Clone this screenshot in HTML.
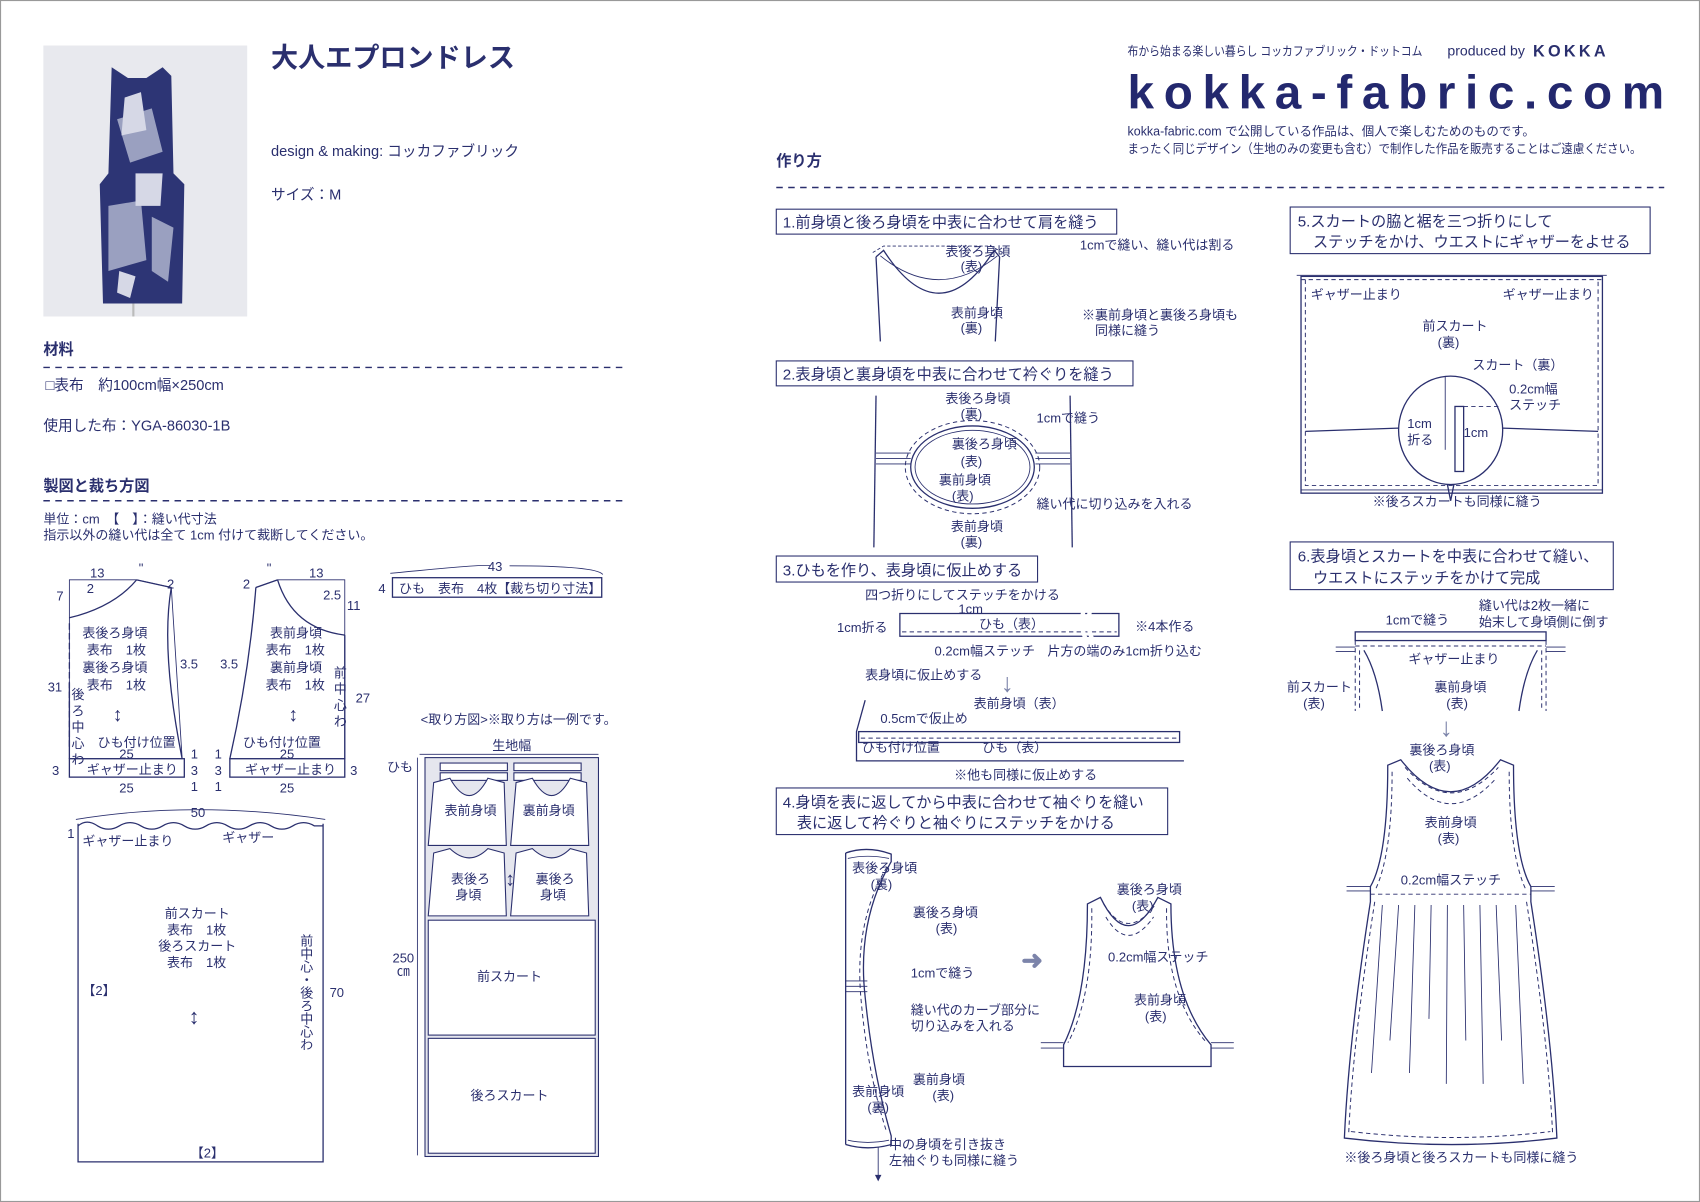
<!DOCTYPE html>
<html><head><meta charset="utf-8"><style>
html,body{margin:0;padding:0;background:#fff;}
svg{display:block;}
text{font-family:"Liberation Sans","Noto Sans CJK JP",sans-serif;fill:#2a2f6e;}
.s{font-size:12px;}
.m{font-size:13px;}
.b{font-weight:bold;}
.ln{stroke:#2a2f6e;fill:none;stroke-width:1.2;}
.th{stroke:#2a2f6e;fill:none;stroke-width:0.8;}
.ds{stroke:#2a2f6e;fill:none;stroke-width:0.9;stroke-dasharray:4 3;}
.hd{stroke:#2a2f6e;fill:none;stroke-width:1.3;stroke-dasharray:6 5;}
.bx{stroke:#2a2f6e;fill:#fff;stroke-width:1;}
</style></head><body>
<svg width="1700" height="1202" viewBox="0 0 1568 1109" preserveAspectRatio="none" xmlns="http://www.w3.org/2000/svg">
<rect x="0.5" y="0.5" width="1567" height="1108" fill="#fff" stroke="#999" stroke-width="1"/>

<!-- photo -->
<rect x="40" y="42" width="188" height="250" fill="#e8e9ee"/>
<path d="M103 62 L118 72 L135 72 L150 62 L158 70 L160 160 L170 170 L168 280 L95 280 L92 170 L100 160 Z" fill="#2d3575"/>
<path d="M108 110 L140 100 L150 140 L120 150 Z M100 190 L130 185 L135 240 L100 250 Z M140 200 L160 210 L155 260 L140 250 Z" fill="#9aa0c0"/>
<path d="M115 90 L130 85 L135 120 L112 125Z M125 160 L150 160 L148 190 L125 190Z M110 250 L125 255 L120 275 L108 270Z" fill="#d6d8e6"/>
<line x1="123" y1="280" x2="123" y2="292" stroke="#bbb" stroke-width="2"/>

<text x="250" y="62" font-size="25" class="b">大人エプロンドレス</text>
<text x="250" y="144" font-size="13.5">design &amp; making: コッカファブリック</text>
<text x="250" y="184" font-size="13.5">サイズ：M</text>

<text x="40" y="327" font-size="14" class="b">材料</text>
<line x1="40" y1="339" x2="578" y2="339" class="hd"/>
<text x="42" y="360" font-size="13.5">□表布　約100cm幅×250cm</text>
<text x="40" y="397" font-size="13.5">使用した布：YGA-86030-1B</text>
<text x="40" y="453" font-size="14" class="b">製図と裁ち方図</text>
<line x1="40" y1="462" x2="578" y2="462" class="hd"/>
<text x="40" y="483" class="s">単位：cm　【　】：縫い代寸法</text>
<text x="40" y="498" class="s">指示以外の縫い代は全て 1cm 付けて裁断してください。</text>

<!-- back bodice pattern -->
<g>
<path d="M64 535 L126 535 L158 542 L168 700 L64 700 Z" class="th"/>
<path d="M64 570 Q105 560 126 535" class="ln"/>
<path d="M126 535 L158 542" class="ln"/>
<path d="M158 542 Q148 600 168 700" class="ln"/>
<line x1="64" y1="630" x2="64" y2="700" class="ln"/>
<line x1="64" y1="575" x2="64" y2="690" class="ln" stroke-dasharray="6 3"/>
<rect x="64" y="700" width="106" height="17" class="ln"/>
<text x="83" y="533" class="s">13</text><text x="128" y="528" class="s">"</text>
<text x="52" y="554" class="s">7</text><text x="80" y="547" class="s">2</text><text x="154" y="543" class="s">2</text>
<text x="76" y="588" class="s">表後ろ身頃</text><text x="80" y="604" class="s">表布　1枚</text>
<text x="76" y="620" class="s">裏後ろ身頃</text><text x="80" y="636" class="s">表布　1枚</text>
<text x="166" y="617" class="s">3.5</text><text x="44" y="638" class="s">31</text>
<text x="66" y="645" class="s">後</text><text x="66" y="660" class="s">ろ</text><text x="66" y="675" class="s">中</text><text x="66" y="690" class="s">心</text><text x="66" y="705" class="s" font-size="11">わ</text>
<text x="104" y="665" font-size="18">↕</text>
<text x="90" y="689" class="s">ひも付け位置</text>
<text x="110" y="700" class="s">25</text>
<text x="48" y="715" class="s">3</text><text x="80" y="714" class="s">ギャザー止まり</text>
<text x="176" y="700" class="s">1</text><text x="176" y="715" class="s">3</text><text x="176" y="730" class="s">1</text>
<text x="110" y="731" class="s">25</text>
</g>
<!-- front bodice pattern -->
<g>
<path d="M236 542 L256 535 L318 535 L318 700 L212 700" class="th"/>
<path d="M236 542 L256 535" class="ln"/>
<path d="M256 535 Q270 580 318 586" class="ln"/>
<path d="M236 542 Q230 620 212 700" class="ln"/>
<line x1="318" y1="586" x2="318" y2="700" class="ln"/>
<rect x="212" y="700" width="106" height="17" class="ln"/>
<text x="285" y="533" class="s">13</text><text x="246" y="528" class="s">"</text>
<text x="224" y="543" class="s">2</text><text x="298" y="553" class="s">2.5</text><text x="320" y="563" class="s">11</text>
<text x="249" y="588" class="s">表前身頃</text><text x="245" y="604" class="s">表布　1枚</text>
<text x="249" y="620" class="s">裏前身頃</text><text x="245" y="636" class="s">表布　1枚</text>
<text x="203" y="617" class="s">3.5</text>
<text x="308" y="625" class="s">前</text><text x="308" y="640" class="s">中</text><text x="308" y="655" class="s">心</text><text x="308" y="670" class="s">わ</text>
<text x="328" y="648" class="s">27</text>
<text x="266" y="665" font-size="18">↕</text>
<text x="224" y="689" class="s">ひも付け位置</text>
<text x="258" y="700" class="s">25</text>
<text x="198" y="700" class="s">1</text><text x="198" y="715" class="s">3</text><text x="198" y="730" class="s">1</text>
<text x="226" y="714" class="s">ギャザー止まり</text><text x="323" y="715" class="s">3</text>
<text x="258" y="731" class="s">25</text>
</g>
<!-- himo -->
<path d="M360 529 Q450 520 452 522 M470 522 Q550 522 556 530" class="th"/>
<text x="450" y="527" class="s">43</text>
<rect x="362" y="533" width="193" height="18" class="ln"/>
<text x="349" y="547" class="s">4</text>
<text x="368" y="547" class="s">ひも　表布　4枚【裁ち切り寸法】</text>

<!-- skirt -->
<path d="M72 762 Q80 755 90 762 Q100 768 110 762 Q120 756 130 762 Q140 768 150 762 Q160 756 170 762 Q180 768 190 762 Q200 756 210 762 Q220 768 230 762 Q240 756 250 762 Q260 768 270 762 Q280 756 290 762 L298 762" class="ln"/>
<path d="M72 760 L72 1072 L298 1072 L298 760" class="ln"/>
<path d="M70 756 Q180 738 300 756" class="th"/>
<text x="176" y="754" class="s">50</text>
<text x="62" y="773" class="s" font-size="10">1</text>
<text x="76" y="780" class="s">ギャザー止まり</text><text x="205" y="777" class="s">ギャザー</text>
<text x="152" y="847" class="s">前スカート</text><text x="154" y="862" class="s">表布　1枚</text>
<text x="146" y="877" class="s">後ろスカート</text><text x="154" y="892" class="s">表布　1枚</text>
<text x="174" y="945" font-size="20">↕</text>
<text x="76" y="918" class="s">【2】</text>
<text x="176" y="1068" class="s">【2】</text>
<text x="282" y="862" class="s" writing-mode="tb">前中心・後ろ中心わ</text>
<text x="304" y="920" class="s">70</text>

<!-- layout -->
<text x="388" y="668" class="s">&lt;取り方図&gt;※取り方は一例です。</text>
<text x="454" y="692" class="s">生地幅</text>
<line x1="387" y1="696" x2="552" y2="696" class="th"/>
<line x1="385" y1="699" x2="385" y2="1066" class="th"/>
<rect x="392" y="699" width="160" height="368" fill="#e5e6ee" stroke="#2a2f6e" stroke-width="1"/>
<rect x="406" y="704" width="62" height="7" fill="#fff" stroke="#2a2f6e"/><rect x="474" y="704" width="62" height="7" fill="#fff" stroke="#2a2f6e"/>
<rect x="406" y="713" width="62" height="7" fill="#fff" stroke="#2a2f6e"/><rect x="474" y="713" width="62" height="7" fill="#fff" stroke="#2a2f6e"/>
<text x="357" y="712" class="s">ひも</text>
<path d="M400 722 L415 718 Q433 750 450 718 L465 722 L467 780 L395 780 Z" fill="#fff" stroke="#2a2f6e"/>
<path d="M476 722 L491 718 Q509 750 526 718 L541 722 L543 780 L471 780 Z" fill="#fff" stroke="#2a2f6e"/>
<text x="410" y="752" class="s">表前身頃</text><text x="482" y="752" class="s">裏前身頃</text>
<path d="M400 787 L415 783 Q433 800 450 783 L465 787 L467 845 L395 845 Z" fill="#fff" stroke="#2a2f6e"/>
<path d="M476 787 L491 783 Q509 800 526 783 L541 787 L543 845 L471 845 Z" fill="#fff" stroke="#2a2f6e"/>
<text x="416" y="815" class="s">表後ろ</text><text x="420" y="830" class="s">身頃</text>
<text x="494" y="815" class="s">裏後ろ</text><text x="498" y="830" class="s">身頃</text>
<text x="466" y="817" font-size="18">↕</text>
<rect x="395" y="849" width="154" height="106" fill="#fff" stroke="#2a2f6e"/>
<text x="440" y="905" class="s">前スカート</text>
<rect x="395" y="958" width="154" height="106" fill="#fff" stroke="#2a2f6e"/>
<text x="434" y="1015" class="s">後ろスカート</text>
<text x="362" y="888" class="s">250</text><text x="366" y="900" class="s">㎝</text>

<!-- right header -->
<text x="1040" y="51" font-size="11.5" textLength="272" lengthAdjust="spacingAndGlyphs">布から始まる楽しい暮らし コッカファブリック・ドットコム</text>
<text x="1335" y="51" font-size="13">produced by</text>
<text x="1414" y="52" font-size="15" class="b" letter-spacing="3">KOKKA</text>
<text x="1040" y="100" font-size="44" class="b" textLength="495" lengthAdjust="spacing" style="fill:#23286e">kokka-fabric.com</text>
<text x="1040" y="125" font-size="11.5">kokka-fabric.com で公開している作品は、個人で楽しむためのものです。</text>
<text x="1040" y="141" font-size="11.5" textLength="474" lengthAdjust="spacingAndGlyphs">まったく同じデザイン（生地のみの変更も含む）で制作した作品を販売することはご遠慮ください。</text>
<text x="716" y="153" font-size="14" class="b">作り方</text>
<line x1="716" y1="173" x2="1535" y2="173" class="hd"/>

<!-- step 1 -->
<rect x="716" y="193" width="314" height="23" class="bx"/>
<text x="722" y="210" font-size="14">1.前身頃と後ろ身頃を中表に合わせて肩を縫う</text>
<path d="M808 237 L815 231 Q866 310 917 231 L922 237 M808 237 L812 315 M922 237 L918 315" class="ln"/>
<path d="M805 233 L815 227 L914 227 L925 233" class="th" stroke-dasharray="3 2"/>
<path d="M812 236 Q866 280 920 236" class="th"/>
<text x="872" y="236" class="s">表後ろ身頃</text><text x="886" y="250" class="s">(表)</text>
<text x="877" y="293" class="s">表前身頃</text><text x="886" y="307" class="s">(裏)</text>
<text x="996" y="230" class="s">1cmで縫い、縫い代は割る</text>
<text x="998" y="295" class="s">※裏前身頃と裏後ろ身頃も</text><text x="1010" y="309" class="s">同様に縫う</text>

<!-- step 2 -->
<rect x="716" y="333" width="329" height="23" class="bx"/>
<text x="722" y="350" font-size="14">2.表身頃と裏身頃を中表に合わせて衿ぐりを縫う</text>
<line x1="808" y1="365" x2="806" y2="505" class="ln"/><line x1="987" y1="365" x2="989" y2="505" class="ln"/>
<ellipse cx="897" cy="431" rx="57" ry="38" class="ln"/>
<ellipse cx="897" cy="431" rx="62" ry="43" class="ds"/>
<ellipse cx="897" cy="431" rx="53" ry="34" class="th"/>
<path d="M808 418 L840 418 M808 423 L840 423 M808 428 L840 428 M955 418 L987 418 M955 423 L987 423 M955 428 L987 428" class="th"/>
<text x="872" y="372" class="s">表後ろ身頃</text><text x="886" y="386" class="s">(裏)</text>
<text x="956" y="390" class="s">1cmで縫う</text>
<text x="878" y="414" class="s">裏後ろ身頃</text><text x="886" y="430" class="s">(表)</text>
<text x="866" y="447" class="s">裏前身頃</text><text x="878" y="462" class="s">(表)</text>
<text x="956" y="469" class="s">縫い代に切り込みを入れる</text>
<text x="877" y="490" class="s">表前身頃</text><text x="886" y="504" class="s">(裏)</text>

<!-- step 3 -->
<rect x="716" y="513" width="241" height="24" class="bx"/>
<text x="722" y="531" font-size="14">3.ひもを作り、表身頃に仮止めする</text>
<text x="798" y="553" class="s">四つ折りにしてステッチをかける</text>
<text x="884" y="566" class="s">1cm</text>
<text x="772" y="583" class="s">1cm折る</text>
<path d="M830 566 L1032 566 L1032 587 L830 587 Z" class="ln"/>
<line x1="832" y1="583" x2="1030" y2="583" class="ds"/>
<path d="M1000 562 Q995 576 1002 591 M1006 562 Q1001 576 1008 591" stroke="#fff" stroke-width="4" fill="none"/>
<text x="903" y="580" class="s">ひも（表）</text>
<text x="1047" y="582" class="s">※4本作る</text>
<text x="862" y="605" class="s">0.2cm幅ステッチ</text>
<text x="966" y="605" class="s">片方の端のみ1cm折り込む</text>
<text x="798" y="627" class="s">表身頃に仮止めする</text>
<text x="923" y="638" font-size="24" style="fill:#7c84aa" class="b">↓</text>
<text x="898" y="653" class="s">表前身頃（表）</text>
<text x="812" y="667" class="s">0.5cmで仮止め</text>
<path d="M798 646 L790 675 L790 702 L1092 702" class="ln"/>
<rect x="792" y="675" width="296" height="10" class="ln"/>
<line x1="794" y1="681" x2="1086" y2="681" class="ds"/>
<text x="795" y="694" class="s">ひも付け位置</text><text x="906" y="694" class="s">ひも（表）</text>
<text x="880" y="719" class="s">※他も同様に仮止めする</text>

<!-- step 4 -->
<rect x="716" y="727" width="361" height="43" class="bx"/>
<text x="722" y="745" font-size="14">4.身頃を表に返してから中表に合わせて袖ぐりを縫い</text>
<text x="735" y="764" font-size="14">表に返して衿ぐりと袖ぐりにステッチをかける</text>
<path d="M780 787 L780 1056 M780 787 Q800 780 822 788 L822 795 Q790 850 798 920 Q805 990 822 1048 L822 1056 Q800 1062 780 1056" class="ln"/>
<path d="M782 792 Q800 788 820 792 M782 1052 Q800 1056 820 1052" class="th"/>
<path d="M818 800 Q788 850 794 920 Q800 990 818 1045" class="ds"/>
<path d="M780 905 L800 905 M780 910 L800 910 M780 915 L800 915" class="th"/>
<text x="786" y="805" class="s">表後ろ身頃</text><text x="803" y="820" class="s">(裏)</text>
<text x="842" y="846" class="s">裏後ろ身頃</text><text x="863" y="861" class="s">(表)</text>
<text x="840" y="902" class="s">1cmで縫う</text>
<text x="840" y="936" class="s">縫い代のカーブ部分に</text><text x="840" y="951" class="s">切り込みを入れる</text>
<text x="842" y="1000" class="s">裏前身頃</text><text x="860" y="1015" class="s">(表)</text>
<text x="786" y="1011" class="s">表前身頃</text><text x="800" y="1026" class="s">(裏)</text>
<path d="M810 1058 L810 1088" class="th"/><path d="M807 1084 L810 1090 L813 1084Z" fill="#2a2f6e"/>
<text x="820" y="1060" class="s">中の身頃を引き抜き</text><text x="820" y="1075" class="s">左袖ぐりも同様に縫う</text>
<text x="942" y="894" font-size="24" style="fill:#7c84aa" class="b">➜</text>
<path d="M1003 834 L1015 828 Q1040 880 1068 828 L1080 834 Q1080 920 1117 964 L1117 984 L1047 984 L981 984 L981 964 Q1003 920 1003 834Z" class="ln"/>
<path d="M1018 834 Q1040 870 1066 834 M1020 846 Q1040 880 1064 846" class="ds"/>
<path d="M1007 838 Q1008 920 985 962 M1076 838 Q1075 920 1113 962" class="ds"/>
<path d="M960 962 L981 962 M960 967 L981 967 M1117 962 L1138 962 M1117 967 L1138 967" class="th"/>
<text x="1030" y="825" class="s">裏後ろ身頃</text><text x="1044" y="840" class="s">(表)</text>
<text x="1022" y="887" class="s">0.2cm幅ステッチ</text>
<text x="1046" y="927" class="s">表前身頃</text><text x="1056" y="942" class="s">(表)</text>

<!-- step 5 -->
<rect x="1190" y="191" width="332" height="43" class="bx"/>
<text x="1197" y="209" font-size="14">5.スカートの脇と裾を三つ折りにして</text>
<text x="1211" y="228" font-size="14">ステッチをかけ、ウエストにギャザーをよせる</text>
<rect x="1200" y="255" width="278" height="200" class="ln"/>
<path d="M1204 258 L1204 448 L1474 448 L1474 258" class="ds"/>
<line x1="1200" y1="452" x2="1478" y2="452" class="th"/>
<line x1="1196" y1="254" x2="1482" y2="254" class="th"/>
<line x1="1200" y1="258" x2="1478" y2="258" class="ds"/>
<text x="1209" y="276" class="s">ギャザー止まり</text><text x="1386" y="276" class="s">ギャザー止まり</text>
<text x="1312" y="305" class="s">前スカート</text><text x="1326" y="320" class="s">(裏)</text>
<text x="1358" y="341" class="s">スカート（裏）</text>
<text x="1392" y="363" class="s">0.2cm幅</text><text x="1392" y="378" class="s">ステッチ</text>
<path d="M1204 398 L1290 395 M1386 395 L1474 398" class="ln"/>
<ellipse cx="1338" cy="397" rx="48" ry="50" fill="#fff" stroke="#2a2f6e" stroke-width="1.2"/>
<path d="M1335 447 L1338 462 L1341 447" class="ln"/>
<line x1="1333" y1="347" x2="1333" y2="415" class="th"/>
<rect x="1342" y="375" width="8" height="60" class="ln"/>
<line x1="1350" y1="375" x2="1385" y2="375" class="ds"/>
<text x="1298" y="395" class="s">1cm</text><text x="1298" y="410" class="s">折る</text>
<text x="1350" y="403" class="s">1cm</text>
<text x="1266" y="467" class="s">※後ろスカートも同様に縫う</text>

<!-- step 6 -->
<rect x="1190" y="500" width="298" height="44" class="bx"/>
<text x="1197" y="518" font-size="14">6.表身頃とスカートを中表に合わせて縫い、</text>
<text x="1211" y="538" font-size="14">ウエストにステッチをかけて完成</text>
<text x="1364" y="563" class="s">縫い代は2枚一緒に</text><text x="1364" y="578" class="s">始末して身頃側に倒す</text>
<text x="1278" y="576" class="s">1cmで縫う</text>
<rect x="1250" y="583" width="176" height="8" class="ln"/>
<line x1="1250" y1="596" x2="1426" y2="596" class="ds"/>
<path d="M1250 591 L1250 656 M1426 591 L1426 656 M1254 600 L1254 656 M1422 600 L1422 656" class="ds"/>
<path d="M1232 597 L1250 597 M1232 601 L1250 601 M1426 597 L1444 597 M1426 601 L1444 601" class="th"/>
<path d="M1258 600 Q1270 620 1275 656 M1418 600 Q1406 620 1401 656" class="ln"/>
<text x="1299" y="612" class="s">ギャザー止まり</text>
<text x="1187" y="638" class="s">前スカート</text><text x="1202" y="653" class="s">(表)</text>
<text x="1323" y="638" class="s">裏前身頃</text><text x="1334" y="653" class="s">(表)</text>
<text x="1328" y="679" font-size="24" style="fill:#7c84aa" class="b">↓</text>
<text x="1300" y="696" class="s">裏後ろ身頃</text><text x="1318" y="711" class="s">(表)</text>
<path d="M1280 706 L1292 701 Q1338 760 1384 701 L1396 706 Q1396 790 1412 818 L1412 832 Q1432 960 1436 1050 Q1340 1062 1240 1050 Q1244 960 1264 832 L1264 818 Q1280 790 1280 706Z" class="ln"/>
<path d="M1296 708 Q1338 755 1382 708 M1298 718 Q1338 765 1380 718" class="ds"/>
<path d="M1284 712 Q1284 790 1268 822 M1392 712 Q1392 790 1408 822 M1268 832 Q1248 960 1244 1045 M1408 832 Q1428 960 1432 1045 M1246 1044 Q1340 1055 1430 1044" class="ds"/>
<line x1="1264" y1="825" x2="1412" y2="825" class="ds"/>
<path d="M1242 818 L1264 818 M1242 822 L1264 822 M1412 818 L1434 818 M1412 822 L1434 822" class="th"/>
<path d="M1275 835 L1265 990 M1290 835 L1282 960 M1305 835 L1300 990 M1320 835 L1318 940 M1335 835 L1334 1000 M1350 835 L1352 960 M1365 835 L1368 1000 M1380 835 L1385 960 M1398 835 L1405 1000" class="th" stroke-width="0.5"/>
<text x="1314" y="763" class="s">表前身頃</text><text x="1326" y="778" class="s">(表)</text>
<text x="1292" y="816" class="s">0.2cm幅ステッチ</text>
<text x="1240" y="1072" class="s">※後ろ身頃と後ろスカートも同様に縫う</text>
</svg>
</body></html>
